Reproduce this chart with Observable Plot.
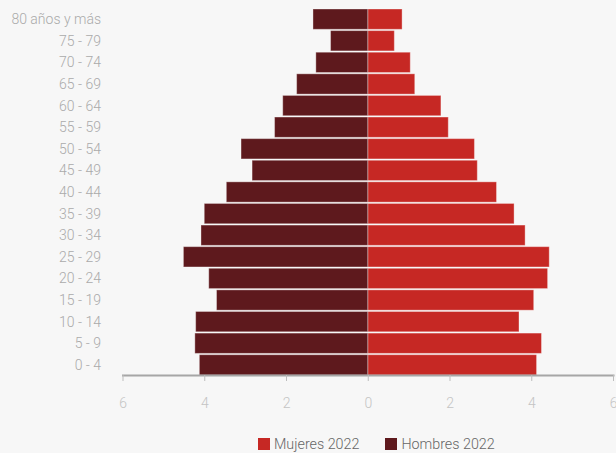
<!DOCTYPE html>
<html>
<head>
<meta charset="utf-8">
<script src="https://cdn.jsdelivr.net/npm/d3@7"></script>
<script src="https://cdn.jsdelivr.net/npm/@observablehq/plot@0.6"></script>
<style>
  html, body { margin: 0; padding: 0; background: #f7f7f7; }
  body { width: 616px; height: 453px; overflow: hidden; font-family: Roboto, sans-serif; }
  #legend { position: absolute; left: 258px; top: 436px; display: flex; gap: 0 26px; font-family: Roboto, sans-serif; font-weight: 300; font-size: 14.3px; line-height: 16px; color: #666; }
  .item { display: flex; align-items: center; }
  .sw { width: 12px; height: 12px; margin-right: 4px; display: inline-block; }
  svg text { font-weight: 300; }
</style>
</head>
<body>
<div id="chart"></div>
<div id="legend"></div>
<script>
const ages = ["0 - 4","5 - 9","10 - 14","15 - 19","20 - 24","25 - 29","30 - 34","35 - 39","40 - 44","45 - 49","50 - 54","55 - 59","60 - 64","65 - 69","70 - 74","75 - 79","80 años y más"];
const mujeres = [4.13, 4.25, 3.70, 4.06, 4.40, 4.44, 3.85, 3.58, 3.15, 2.68, 2.61, 1.97, 1.79, 1.15, 1.04, 0.65, 0.84];
const hombres = [4.12, 4.23, 4.21, 3.70, 3.89, 4.51, 4.08, 4.00, 3.46, 2.83, 3.10, 2.28, 2.08, 1.74, 1.27, 0.91, 1.34];
const xTicks = [-6, -4, -2, 0, 2, 4, 6];
const series = ["Mujeres 2022", "Hombres 2022"];
const colors = ["#c62824", "#5e191d"];

const data = [];
ages.forEach((a, i) => {
  data.push({age: a, sex: series[0], value: mujeres[i]});
  data.push({age: a, sex: series[1], value: -hombres[i]});
});

const chart = Plot.plot({
  width: 616,
  height: 425,
  marginTop: 9,
  marginBottom: 50,
  marginLeft: 122.5,
  marginRight: 3,
  style: {background: "#f7f7f7", fontFamily: "Roboto, sans-serif", fontSize: "14px"},
  x: {domain: [-6, 6], ticks: xTicks, tickFormat: d => Math.abs(d)},
  y: {domain: ages.slice().reverse(), paddingInner: 0.06, paddingOuter: 0, round: false},
  color: {domain: series, range: colors},
  marks: [
    Plot.barX(data, {y: "age", x: "value", fill: "sex", stroke: "#ffffff", strokeOpacity: 0.35, strokeWidth: 1}),
    Plot.frame({anchor: "bottom", stroke: "#a6a6a6", strokeWidth: 2}),
    Plot.axisX({ticks: xTicks, tickFormat: d => Math.abs(d), tickSize: 6, tickPadding: 17, stroke: "#bdbdbd", fill: "#c4c4c4", fontSize: 14, label: null}),
    Plot.axisY({tickSize: 0, tickPadding: 22, fill: "#aaaaaa", fontSize: 14, label: null})
  ]
});
document.getElementById("chart").appendChild(chart);

const legend = document.getElementById("legend");
series.forEach((s, i) => {
  const it = document.createElement("div");
  it.className = "item";
  const sw = document.createElement("span");
  sw.className = "sw";
  sw.style.background = colors[i];
  it.appendChild(sw);
  it.appendChild(document.createTextNode(s));
  legend.appendChild(it);
});
</script>
</body>
</html>
